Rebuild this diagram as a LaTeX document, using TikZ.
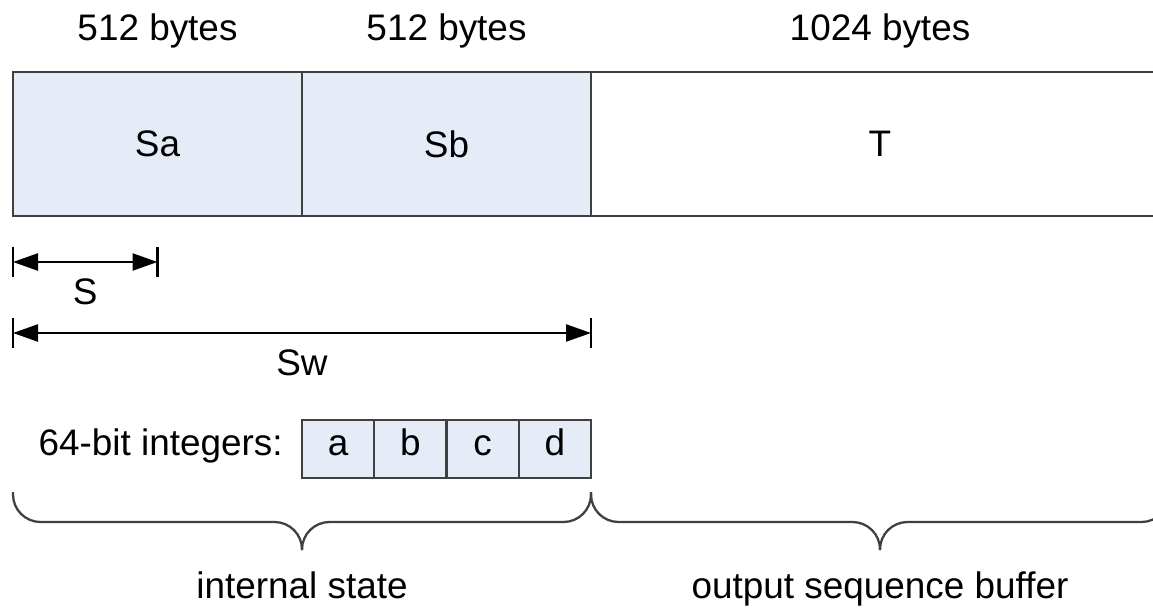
\documentclass[tikz,border=0pt]{standalone}
\usepackage{fontspec}
\setmainfont{Liberation Sans}
\usetikzlibrary{arrows.meta,calc,positioning}
\definecolor{stateblue}{RGB}{229,235,247}
\definecolor{linegray}{RGB}{64,64,64}
\tikzset{%
	cell/.style    = {draw=linegray, fill=stateblue, line width=1.3pt, outer sep=0pt, inner sep=0pt, minimum width=5.78cm, minimum height=2.88cm},
	buffer/.style  = {cell, fill=white, minimum width=11.56cm}, % T spans two cells
	word/.style    = {draw=linegray, fill=stateblue, line width=1.3pt, outer sep=0pt, inner sep=0pt, minimum width=1.445cm, minimum height=1.16cm, text height=0.72em, text depth=0pt},
	caption/.style = {inner sep=0pt},
	dimline/.style = {draw=black, line width=1.3pt, {Triangle[length=0.5cm,width=0.34cm]}-{Triangle[length=0.5cm,width=0.34cm]}},
	tick/.style    = {draw=black, line width=1.3pt},
	bracket/.style = {draw=linegray, line width=1.3pt, rounded corners=0.55cm},
}
\begin{document}
\begin{tikzpicture}[font=\fontsize{21pt}{25pt}\selectfont]
	\useasboundingbox (0,0) rectangle (23.06,-12.16);

	\node[cell] (Sa) at (3.15,-2.88) {Sa};
	\node[cell,right=0pt of Sa] (Sb) {Sb};
	\node[buffer,right=0pt of Sb] (T) {T};
	\node[caption,above=0.46cm of Sa] (szSa) {512 bytes};
	\node[caption,above=0.46cm of Sb] (szSb) {512 bytes};
	\node[caption,above=0.46cm of T] (szT) {1024 bytes};

	% widths S and Sw
	\coordinate (s0) at ($(Sa.south west)+(0,-0.92)$);
	\coordinate (s1) at (Sa.south |- s0);
	\coordinate (w0) at ($(Sa.south west)+(0,-2.34)$);
	\coordinate (w1) at (Sb.south east |- w0);
	\draw[dimline] (s0) -- node[caption,below=0.32cm] (lS) {S} (s1);
	\draw[dimline] (w0) -- node[caption,below=0.32cm] (lSw) {Sw} (w1);
	\draw[tick] ([yshift=0.3cm]s0) -- ([yshift=-0.3cm]s0);
	\draw[tick] ([yshift=0.3cm]s1) -- ([yshift=-0.3cm]s1);
	\draw[tick] ([yshift=0.3cm]w0) -- ([yshift=-0.3cm]w0);
	\draw[tick] ([yshift=0.3cm]w1) -- ([yshift=-0.3cm]w1);

	% a, b, c, d
	\node[word,anchor=north west] (wa) at (Sb.south west |- 0,-8.4) {a};
	\node[word,right=0pt of wa] (wb) {b};
	\node[word,right=0pt of wb] (wc) {c};
	\node[word,right=0pt of wc] (wd) {d};
	\node[caption,anchor=base east] (ints) at ([xshift=-0.38cm]wa.base west) {64-bit integers:};

	% braces
	\coordinate (b0) at ($(Sa.south west)+(0,-5.52)$);
	\coordinate (b1) at (Sb.south east |- b0);
	\coordinate (b2) at (T.south east |- b0);
	\coordinate (m1) at ($(Sb.south west |- b0)+(0,-0.6)$);
	\coordinate (t1) at ($(m1)+(0,-0.56)$);
	\coordinate (m2) at ($(T.south |- b0)+(0,-0.6)$);
	\coordinate (t2) at ($(m2)+(0,-0.56)$);
	\draw[bracket] (b0) |- (m1) -- (t1);
	\draw[bracket] (b1) |- (m1) -- (t1);
	\draw[bracket] (b1) |- (m2) -- (t2);
	\draw[bracket] (b2) |- (m2) -- (t2);
	\node[caption,below=0.42cm of t1] (lint) {internal state};
	\node[caption,below=0.42cm of t2] (lout) {output sequence buffer};
\end{tikzpicture}
\end{document}
